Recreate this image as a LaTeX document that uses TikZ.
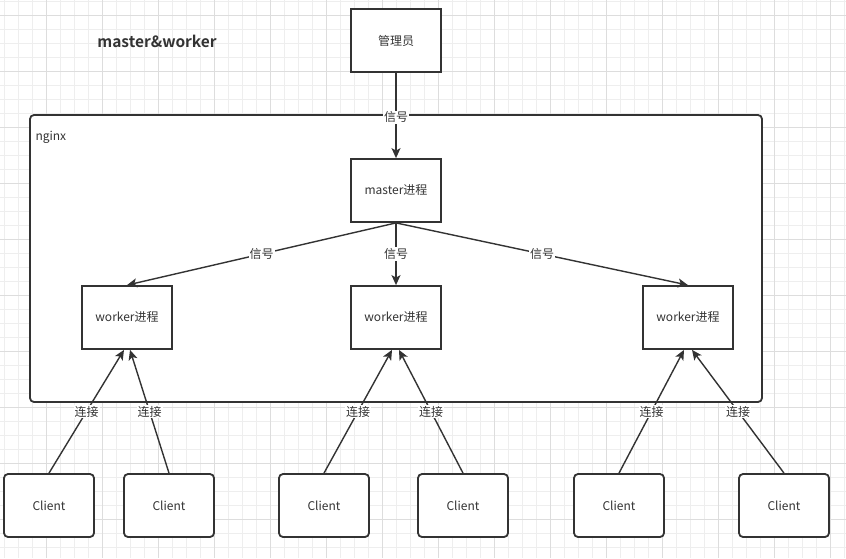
\documentclass[tikz,border=0pt]{standalone}
\usepackage{fontspec}
\setmainfont{Noto Sans CJK SC}[BoldFont={Noto Sans CJK SC Bold}]
\usetikzlibrary{arrows.meta}
\definecolor{ink}{HTML}{333333}
\definecolor{gridminor}{HTML}{EEEEEE}
\definecolor{gridmajor}{HTML}{DDDDDD}
\tikzset{
  box/.style={draw=ink, line width=1.8pt, fill=white, minimum width=90pt, minimum height=63pt, inner sep=0pt, font=\fontsize{12}{14}\selectfont, text=ink},
  cbox/.style={box, rounded corners=4pt},
  arr/.style={draw=ink, line width=1.4pt, -{Stealth[length=10pt,width=9pt,inset=2.5pt]}},
  lab/.style={fill=white, inner sep=1pt, font=\fontsize{12}{14}\selectfont, text=ink},
}
\begin{document}
\begin{tikzpicture}[x=1pt,y=-1pt]
\useasboundingbox (0,0) rectangle (846,558);
\fill[white] (0,0) rectangle (846,558);
% grid
\foreach \i in {0,...,60} { \draw[gridminor, line width=0.8pt] ({4.3+14*\i},0) -- ({4.3+14*\i},558); }
\foreach \j in {0,...,39} { \draw[gridminor, line width=0.8pt] (0,{1.3+14*\j}) -- (846,{1.3+14*\j}); }
\foreach \i in {0,...,14} { \draw[gridmajor, line width=0.8pt] ({46.3+56*\i},0) -- ({46.3+56*\i},558); }
\foreach \j in {0,...,9} { \draw[gridmajor, line width=0.8pt] (0,{15.3+56*\j}) -- (846,{15.3+56*\j}); }

% title
\node[font=\bfseries\fontsize{15.5}{18}\selectfont, text=ink] (title) at (157,41) {master\&worker};

% nginx container
\draw[draw=ink, line width=1.8pt, fill=white, rounded corners=4pt] (30,115) rectangle (762,402);
\node[anchor=west, font=\fontsize{12}{14}\selectfont, text=ink] (nginx) at (32,137) {nginx};

% boxes
\node[box] (admin) at (396,40.5) {管理员};
\node[box] (master) at (396,190.5) {master进程};
\node[box] (w1) at (127,317.5) {worker进程};
\node[box] (w2) at (396,317.5) {worker进程};
\node[box] (w3) at (688,317.5) {worker进程};

\node[cbox] (c1) at (49,505.5) {Client};
\node[cbox] (c2) at (169,505.5) {Client};
\node[cbox] (c3) at (324,505.5) {Client};
\node[cbox] (c4) at (463,505.5) {Client};
\node[cbox] (c5) at (619,505.5) {Client};
\node[cbox] (c6) at (784,505.5) {Client};

% signal arrows
\draw[arr] (admin.south) -- node[lab, pos=0.52] {信号} (master.north);
\draw[arr] (master.south) -- node[lab] {信号} (w1.north);
\draw[arr] (master.south) -- node[lab] {信号} (w2.north);
\draw[arr] (master.south) -- node[lab] {信号} (w3.north);

% connection arrows
\coordinate (e1) at ([xshift=-3pt]w1.south);
\coordinate (e2) at ([xshift=3pt]w1.south);
\coordinate (e3) at ([xshift=-4pt]w2.south);
\coordinate (e4) at ([xshift=3pt]w2.south);
\coordinate (e5) at ([xshift=-4pt]w3.south);
\coordinate (e6) at ([xshift=4pt]w3.south);
\draw[arr] (c1.north) -- node[lab] {连接} (e1);
\draw[arr] (c2.north) -- node[lab] {连接} (e2);
\draw[arr] (c3.north) -- node[lab] {连接} (e3);
\draw[arr] (c4.north) -- node[lab] {连接} (e4);
\draw[arr] (c5.north) -- node[lab] {连接} (e5);
\draw[arr] (c6.north) -- node[lab] {连接} (e6);
\end{tikzpicture}
\end{document}
